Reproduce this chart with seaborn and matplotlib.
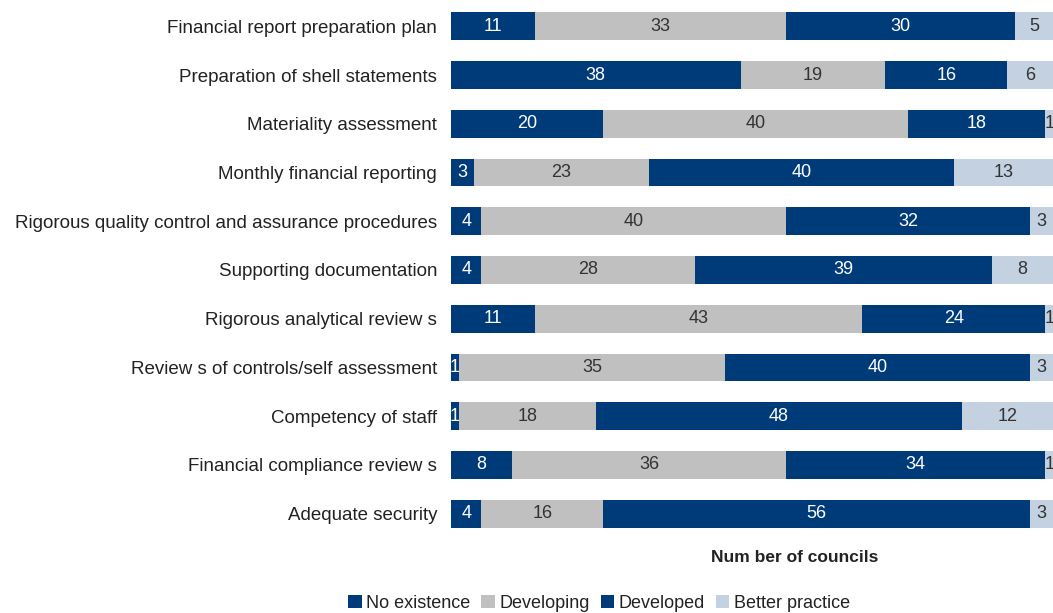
import numpy as np
import pandas as pd
import matplotlib
matplotlib.use("Agg")
import matplotlib.pyplot as plt
import seaborn as sns
from matplotlib.patches import Patch

categories = [
    "Financial report preparation plan",
    "Preparation of shell statements",
    "Materiality assessment",
    "Monthly financial reporting",
    "Rigorous quality control and assurance procedures",
    "Supporting documentation",
    "Rigorous analytical review s",
    "Review s of controls/self assessment",
    "Competency of staff",
    "Financial compliance review s",
    "Adequate security",
]
no_existence = [11, 38, 20, 3, 4, 4, 11, 1, 1, 8, 4]
developing = [33, 19, 40, 23, 40, 28, 43, 35, 18, 36, 16]
developed = [30, 16, 18, 40, 32, 39, 24, 40, 48, 34, 56]
better_practice = [5, 6, 1, 13, 3, 8, 1, 3, 12, 1, 3]

series_names = ["No existence", "Developing", "Developed", "Better practice"]
series_values = [no_existence, developing, developed, better_practice]
colors = ["#003B79", "#C0C0C0", "#003B79", "#C3D1E1"]
text_colors = ["white", "#333333", "white", "#333333"]

sns.set_theme(style="white")
plt.rcParams["font.family"] = ["Liberation Sans", "DejaVu Sans"]

fig = plt.figure(figsize=(10.53, 6.13), dpi=100)
ax = fig.add_axes([0.4283, 0.1223, 0.5717, 0.8745])

cum = np.cumsum(np.array(series_values), axis=0)

# Stacked bars: draw cumulative totals from the outermost layer inward
for i in range(len(series_names) - 1, -1, -1):
    df = pd.DataFrame({"category": categories, "value": cum[i]})
    sns.barplot(data=df, x="value", y="category", orient="h", color=colors[i],
                saturation=1, width=0.57, ax=ax, linewidth=0)

# Segment value labels
for i, vals in enumerate(series_values):
    for j, v in enumerate(vals):
        center = cum[i][j] - v / 2
        ax.text(center, j, str(v), ha="center", va="center", fontsize=13,
                color=text_colors[i], clip_on=False)

ax.set_xlim(0, 79)
ax.set_ylim(len(categories) - 0.5, -0.5)
ax.set_xticks([])
ax.set_ylabel("")
ax.set_xlabel("Num ber of councils", fontsize=12.5, fontweight="bold",
              color="#222222")
ax.xaxis.set_label_coords(0.571, -0.022, transform=ax.transAxes)
ax.xaxis.label.set_va("top")
ax.tick_params(axis="y", length=0, pad=10, labelsize=13.5, labelcolor="#222222")
for lbl in ax.get_yticklabels():
    lbl.set_va("center_baseline")
for s in ax.spines.values():
    s.set_visible(False)

handles = [Patch(facecolor=c, edgecolor="none") for c in colors]
fig.legend(handles, series_names, loc="lower center", bbox_to_anchor=(0.569, -0.025),
           ncol=4, frameon=False, fontsize=13, handlelength=0.75, handleheight=0.75,
           handletextpad=0.25, columnspacing=0.6, labelcolor="#222222")

fig.savefig("out.png", dpi=100)
